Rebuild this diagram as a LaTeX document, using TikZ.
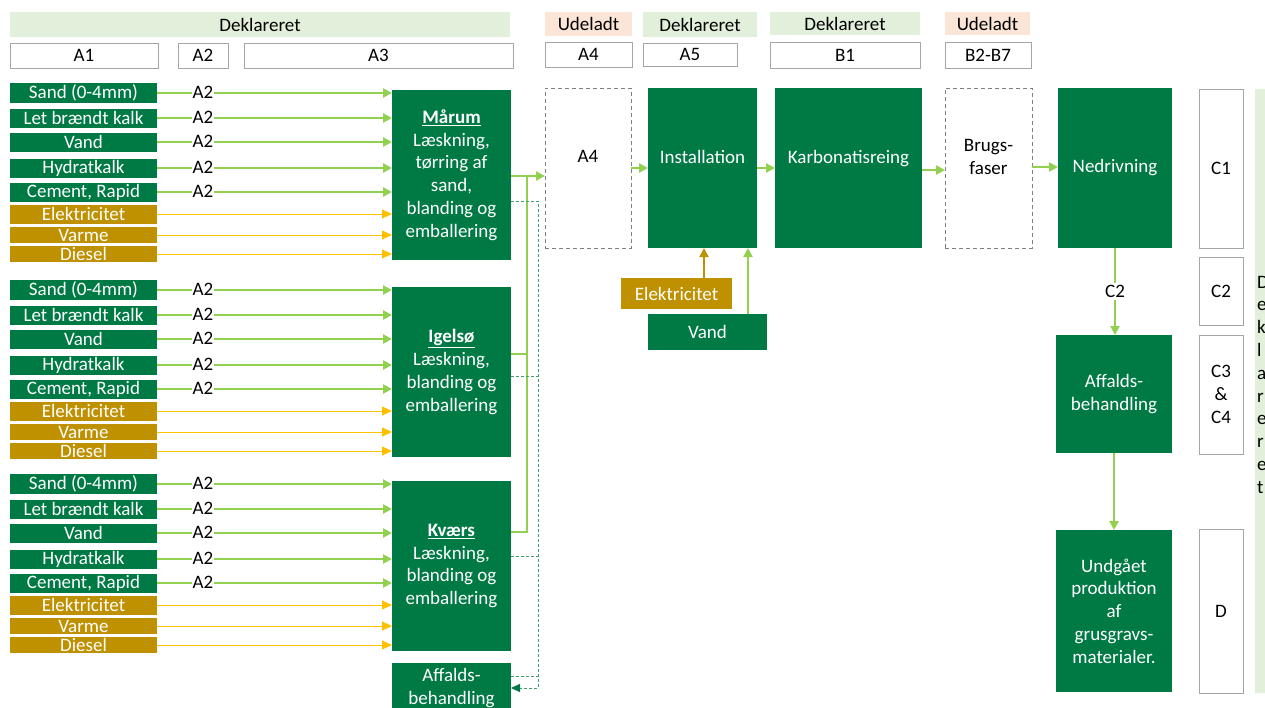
\documentclass[tikz,border=0pt]{standalone}
\usepackage{fontspec}
\setmainfont{Carlito}
\usetikzlibrary{arrows.meta}
\definecolor{dg}{HTML}{007A45}
\definecolor{gold}{HTML}{BF9000}
\definecolor{lg}{HTML}{92D050}
\definecolor{yl}{HTML}{FFC000}
\definecolor{hg}{HTML}{E2EFDA}
\definecolor{hp}{HTML}{FBE5D6}
\definecolor{tl}{HTML}{3FA06E}
\definecolor{bd}{HTML}{A6A6A6}
\newcommand\bx[7]{\node[#6, minimum width=#4pt-#2pt, minimum height=#5pt-#3pt] (#1) at ({(#2+#4)/2},{(#3+#5)/2}) {#7};}
\begin{document}
\begin{tikzpicture}[x=1pt,y=-1pt,
  font=\fontsize{19}{22.8}\selectfont,
  every node/.style={inner sep=0pt, outer sep=0pt, align=center},
  gbox/.style={fill=dg, text=white},
  ybox/.style={fill=gold, text=white},
  hdrg/.style={fill=hg},
  hdrp/.style={fill=hp},
  wbox/.style={draw=bd, line width=0.8pt, fill=white},
  dbox/.style={draw=gray, dash pattern=on 4pt off 3pt, line width=1pt},
  garr/.style={draw=lg, line width=2.5pt, -{Triangle[length=9pt,width=9pt]}},
  gline/.style={draw=lg, line width=2.5pt},
  yarr/.style={draw=yl, line width=1pt, -{Triangle[length=10pt,width=9pt]}},
  oarr/.style={draw=gold, line width=2pt, -{Triangle[length=9pt,width=9pt]}},
  tline/.style={draw=tl, line width=1pt, dash pattern=on 3pt off 2pt},
  lab/.style={fill=white, inner sep=1pt}]
\clip (0,0) rectangle (1265,707);
% headers
\bx{h1}{10}{12}{510}{37}{hdrg}{Deklareret}
\bx{h2}{545}{12}{632}{36}{hdrp}{Udeladt}
\bx{h3}{643}{12}{757}{37}{hdrg}{Deklareret}
\bx{h4}{770}{12}{920}{35}{hdrg}{Deklareret}
\bx{h5}{945}{12}{1030}{35}{hdrp}{Udeladt}
\bx{a1}{10}{43}{158}{68}{wbox}{A1}
\bx{a2}{178}{43}{228}{68}{wbox}{A2}
\bx{a3}{244}{43}{513}{68}{wbox}{A3}
\bx{a4}{545}{42}{632}{67}{wbox}{A4}
\bx{a5}{643}{43}{737}{66}{wbox}{A5}
\bx{b1}{770}{42}{920}{68}{wbox}{B1}
\bx{b2}{945}{42}{1031}{68}{wbox}{B2-B7}
% process boxes
\bx{P1}{392}{90}{511}{260}{gbox}{\underline{\textbf{Mårum}}\\Læskning,\\tørring af\\sand,\\blanding og\\emballering}
\bx{P2}{392}{287}{511}{457}{gbox}{\underline{\textbf{Igelsø}}\\Læskning,\\blanding og\\emballering}
\bx{P3}{392}{481}{511}{651}{gbox}{\underline{\textbf{Kværs}}\\Læskning,\\blanding og\\emballering}
\bx{AF}{392}{663}{511}{713}{gbox}{Affalds-\\behandling}
% inputs
\foreach \g/\s in {1/93,2/290,3/484}{
  \foreach \i/\o/\h/\t in {1/0/20/{Sand (0-4mm)},2/25/19/{Let brændt kalk},3/49/19/{Vand},4/75/19/{Hydratkalk},5/99/19/{Cement, Rapid}}{
    \pgfmathsetmacro\yc{\s+\o}
    \node[gbox, minimum width=147pt, minimum height=\h*1pt] (in\g x\i) at (83.5,\yc) {\t};
    \draw[garr] (in\g x\i.east) -- (in\g x\i.east -| P\g.west);
    \node[lab] (lb\g x\i) at (203,\yc-1) {A2};
  }
  \foreach \i/\o/\h/\t in {6/121/19/{Elektricitet},7/142/16/{Varme},8/161/16/{Diesel}}{
    \pgfmathsetmacro\yc{\s+\o}
    \node[ybox, minimum width=147pt, minimum height=\h*1pt] (in\g x\i) at (83.5,\yc) {\t};
    \draw[yarr] (in\g x\i.east) -- (in\g x\i.east -| P\g.west);
  }
}
% main chain
\bx{A4}{545}{88}{631}{248}{dbox}{A4\\~}
\bx{Inst}{648}{88}{757}{248}{gbox}{Installation\\~}
\bx{Karb}{775}{88}{922}{248}{gbox}{Karbonatisreing\\~}
\bx{Brug}{945}{88}{1032}{248}{dbox}{Brugs-\\faser\\~}
\bx{Ned}{1058}{88}{1172}{248}{gbox}{Nedrivning}
\bx{AF2}{1056}{335}{1172}{453}{gbox}{Affalds-\\behandling}
\bx{Und}{1056}{530}{1172}{692}{gbox}{Undgået\\produktion\\af\\grusgravs-\\materialer.}
\bx{c1}{1199}{89}{1243}{248}{wbox}{C1}
\bx{c2}{1199}{257}{1243}{325}{wbox}{C2}
\bx{c3}{1199}{335}{1243}{454}{wbox}{C3\\\&\\C4}
\bx{dd}{1199}{529}{1243}{693}{wbox}{D}
\bx{panel}{1255}{89}{1290}{693}{hdrg}{}
\node[anchor=north west, align=left] (ptxt) at (1257,276) {D\\e\\k\\l\\a\\r\\e\\r\\e\\t};
% installation inputs
\bx{ie}{621}{278}{732}{309}{ybox}{Elektricitet}
\bx{iv}{648}{314}{767}{350}{gbox}{Vand}
\draw[oarr] ([xshift=27.5pt]ie.north) -- ([xshift=27.5pt]ie.north |- Inst.south);
\draw[garr] ([xshift=40.5pt]iv.north) -- ([xshift=40.5pt]iv.north |- Inst.south);
% outputs of plants
\coordinate (bus1) at (527,176);
\coordinate (bus2) at (527,354);
\coordinate (bus3) at (527,532);
\draw[gline] (P3.east |- bus3) -- (bus3) -- (bus1);
\draw[gline] (P2.east |- bus2) -- (bus2);
\draw[garr] (P1.east |- bus1) -- (bus1 -| A4.west);
\coordinate (d1) at (538,201);
\coordinate (d2) at (538,376);
\coordinate (d3) at (538,556);
\coordinate (d4) at (538,676);
\coordinate (d5) at (538,688);
\draw[tline, -{Triangle[length=9pt,width=8pt,color=dg]}] (P1.east |- d1) -- (d1) -- (d5) -- (AF.east |- d5);
\draw[tline] (P2.east |- d2) -- (d2);
\draw[tline] (P3.east |- d3) -- (d3);
\draw[tline] (AF.east |- d4) -- (d4);
% chain arrows
\draw[garr] (A4.east |- 0,168) -- (Inst.west |- 0,168);
\draw[garr] (Inst.east |- 0,168) -- (Karb.west |- 0,168);
\draw[garr] (Karb.east |- 0,170) -- (Brug.west |- 0,170);
\draw[garr] (Brug.east |- 0,167) -- (Ned.west |- 0,167);
\draw[garr] (Ned.south) -- (Ned.south |- AF2.north) node[midway, lab, inner sep=2pt] (c2lab) {C2};
\draw[garr] (AF2.south) -- (Und.north);
\end{tikzpicture}
\end{document}
